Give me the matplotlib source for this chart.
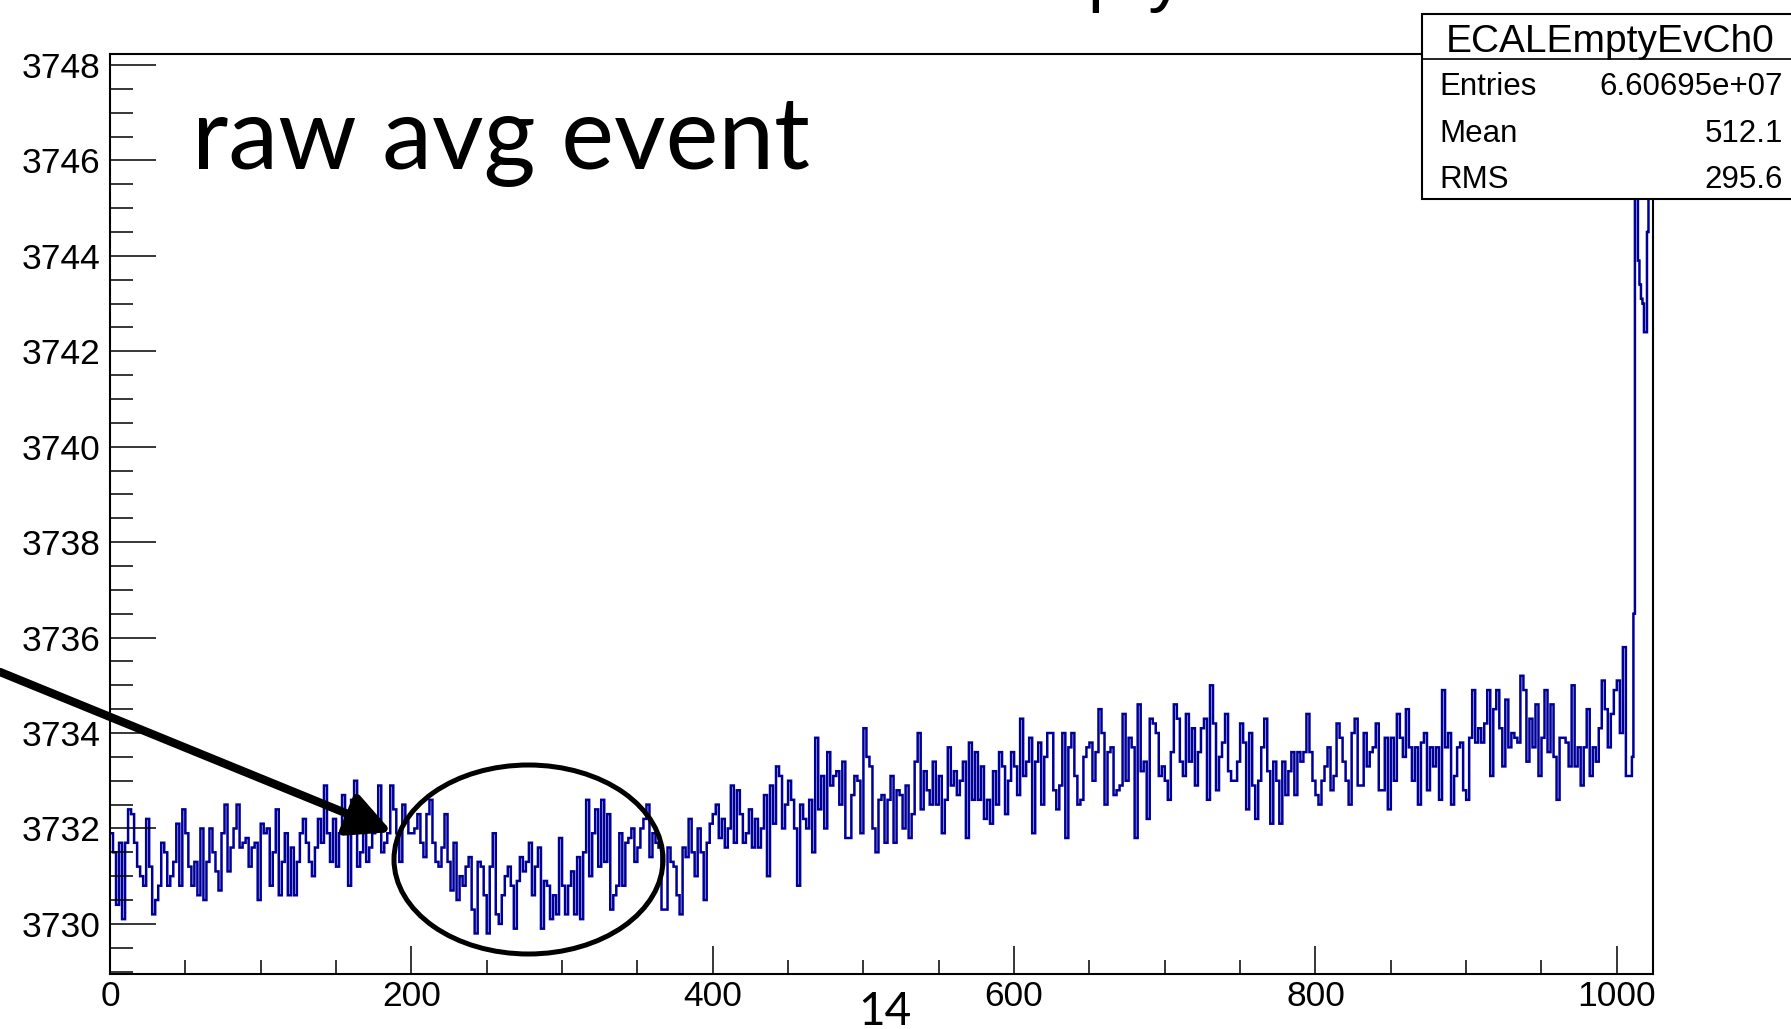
import numpy as np
import matplotlib
matplotlib.use("Agg")
import matplotlib.pyplot as plt
from matplotlib.ticker import MultipleLocator
from matplotlib.patches import Ellipse, Rectangle, FancyArrowPatch

# ==== DANE ====
# biny o szerokosci 2 dla 0..1008, potem biny o szerokosci 1 (pik na koncu)
WIDE_BIN = 2
NARROW_START = 1008
X_MAX = 1024

seg_a = [  # x 0-208
    3731.9, 3731.5, 3730.4, 3731.7, 3730.1, 3731.7, 3732.4, 3732.3, 3731.7, 3731.2,
    3731.0, 3730.8, 3732.2, 3731.2, 3730.2, 3730.5, 3730.8, 3731.7, 3731.5, 3730.8,
    3731.0, 3731.3, 3732.1, 3730.8, 3732.4, 3731.9, 3731.2, 3730.8, 3731.3, 3730.6,
    3732.0, 3730.5, 3731.3, 3732.0, 3731.5, 3731.1, 3730.7, 3731.9, 3732.5, 3731.1,
    3731.6, 3732.0, 3732.5, 3731.6, 3731.7, 3731.8, 3731.2, 3731.6, 3731.7, 3730.5,
    3732.1, 3731.9, 3732.0, 3730.8, 3731.5, 3732.4, 3730.6, 3731.3, 3731.9, 3730.6,
    3731.6, 3730.6, 3731.3, 3731.9, 3732.2, 3731.7, 3731.3, 3731.0, 3731.6, 3732.2,
    3731.7, 3732.9, 3731.9, 3731.3, 3732.2, 3731.2, 3731.9, 3732.7, 3731.9, 3730.8,
    3732.6, 3733.0, 3731.2, 3731.5, 3731.9, 3731.3, 3731.6, 3731.9, 3732.0, 3732.9,
    3731.5, 3731.7, 3731.9, 3732.9, 3732.4, 3731.9, 3731.3, 3732.5, 3732.2, 3731.9,
    3731.9, 3732.0, 3732.3, 3731.7,
]
seg_b = [  # x 208-412
    3731.4, 3732.3, 3732.6, 3731.7, 3731.3, 3731.2, 3731.6, 3732.3, 3731.3, 3730.7,
    3731.7, 3730.5, 3731.0, 3730.8, 3731.2, 3731.4, 3730.3, 3729.8, 3731.3, 3731.2,
    3730.6, 3729.8, 3731.2, 3731.9, 3730.2, 3730.0, 3730.6, 3731.0, 3731.2, 3730.8,
    3729.9, 3730.9, 3731.4, 3731.1, 3731.3, 3731.7, 3730.6, 3731.2, 3731.6, 3729.9,
    3730.9, 3730.8, 3730.1, 3730.6, 3730.2, 3731.8, 3730.8, 3730.2, 3730.8, 3731.1,
    3730.2, 3731.4, 3730.1, 3731.5, 3732.6, 3731.0, 3731.9, 3732.4, 3731.2, 3732.6,
    3731.3, 3732.3, 3730.3, 3730.6, 3730.8, 3731.9, 3730.8, 3731.7, 3731.8, 3732.0,
    3731.3, 3731.6, 3732.0, 3732.2, 3732.5, 3731.4, 3731.9, 3731.7, 3731.6, 3730.3,
    3730.3, 3731.6, 3731.3, 3731.2, 3730.6, 3730.2, 3731.6, 3731.4, 3732.2, 3731.5,
    3731.0, 3732.0, 3731.5, 3730.5, 3731.7, 3732.1, 3732.3, 3732.5, 3731.8, 3732.2,
    3731.6, 3732.0,
]
seg_c = [  # x 412-620
    3732.9, 3731.7, 3732.8, 3732.3, 3731.7, 3731.9, 3732.4, 3731.6, 3732.2, 3731.6,
    3732.0, 3732.7, 3731.0, 3732.9, 3732.1, 3733.3, 3733.1, 3732.0, 3732.5, 3733.0,
    3732.6, 3732.0, 3730.8, 3732.5, 3732.2, 3732.0, 3732.6, 3731.5, 3733.9, 3732.4,
    3733.1, 3732.0, 3733.6, 3732.9, 3733.1, 3733.2, 3732.5, 3733.4, 3731.8, 3731.8,
    3732.7, 3733.1, 3733.0, 3731.9, 3734.1, 3733.5, 3733.3, 3732.0, 3731.5, 3732.6,
    3732.7, 3731.7, 3732.6, 3733.1, 3731.7, 3732.8, 3732.7, 3732.0, 3732.9, 3731.8,
    3732.3, 3733.4, 3734.0, 3732.4, 3733.2, 3732.8, 3732.5, 3733.4, 3732.5, 3733.1,
    3731.9, 3732.6, 3733.7, 3732.9, 3733.2, 3732.7, 3733.0, 3733.4, 3731.8, 3733.8,
    3732.6, 3733.6, 3732.6, 3733.3, 3732.2, 3732.6, 3732.1, 3733.2, 3732.5, 3733.6,
    3733.3, 3732.3, 3733.0, 3733.6, 3733.3, 3732.7, 3734.3, 3733.1, 3733.4, 3733.9,
    3731.9, 3733.4, 3733.8, 3732.5,
]
seg_d = [  # x 620-824
    3733.5, 3734.0, 3734.0, 3732.8, 3732.4, 3732.9, 3734.0, 3731.8, 3733.7, 3734.0,
    3733.1, 3732.5, 3732.6, 3733.5, 3733.7, 3733.8, 3733.0, 3733.6, 3734.5, 3734.0,
    3732.5, 3733.6, 3733.7, 3732.7, 3732.8, 3732.9, 3734.4, 3733.0, 3733.9, 3733.7,
    3731.8, 3734.6, 3733.2, 3733.4, 3732.2, 3734.3, 3734.2, 3734.0, 3733.1, 3733.3,
    3733.0, 3732.6, 3733.6, 3734.6, 3734.3, 3733.4, 3733.1, 3734.4, 3733.4, 3734.1,
    3732.9, 3733.6, 3734.1, 3734.3, 3732.6, 3735.0, 3734.2, 3732.8, 3733.5, 3733.8,
    3734.4, 3733.2, 3733.0, 3733.0, 3733.4, 3734.2, 3733.8, 3732.4, 3734.0, 3732.9,
    3732.2, 3733.0, 3733.7, 3734.3, 3733.2, 3732.1, 3733.4, 3733.0, 3732.1, 3733.4,
    3732.7, 3733.2, 3733.6, 3732.7, 3733.6, 3733.4, 3733.6, 3734.4, 3733.6, 3733.0,
    3732.7, 3732.5, 3733.0, 3733.3, 3733.7, 3732.8, 3733.1, 3734.2, 3733.9, 3733.4,
    3733.0, 3732.5,
]
seg_e = [  # x 824-1008
    3734.0, 3734.3, 3732.9, 3732.9, 3734.0, 3733.3, 3733.6, 3733.7, 3734.2, 3732.8,
    3732.8, 3733.9, 3732.4, 3733.9, 3733.0, 3734.4, 3733.9, 3733.5, 3734.5, 3733.7,
    3733.0, 3733.7, 3732.5, 3733.8, 3734.0, 3732.8, 3733.7, 3733.3, 3733.7, 3732.6,
    3734.9, 3733.7, 3734.0, 3732.5, 3733.1, 3733.7, 3733.8, 3732.8, 3732.6, 3733.9,
    3734.9, 3733.8, 3734.1, 3733.8, 3734.2, 3734.9, 3733.1, 3734.5, 3734.9, 3734.1,
    3733.3, 3734.7, 3733.7, 3734.0, 3733.9, 3733.8, 3735.2, 3734.9, 3733.4, 3734.3,
    3733.7, 3734.6, 3733.1, 3733.9, 3734.9, 3733.6, 3734.6, 3733.5, 3732.6, 3733.9,
    3733.9, 3733.8, 3733.3, 3735.0, 3733.3, 3733.7, 3732.9, 3733.7, 3734.5, 3733.1,
    3733.7, 3733.4, 3734.1, 3735.1, 3734.5, 3733.7, 3734.4, 3734.9, 3735.1, 3734.0,
    3735.8, 3733.1,
]
tail = [  # x = 1008..1023, szerokosc 1 (wartosci 3750 sa schowane pod ramka statystyk)
    3733.1, 3733.1, 3733.5, 3736.5, 3750.0, 3750.0, 3743.9, 3743.4,
    3743.1, 3743.0, 3742.4, 3742.4, 3744.5, 3750.0, 3750.0, 3750.0,
]

STATS_NAME = "ECALEmptyEvCh0"
STATS_ROWS = [("Entries", "6.60695e+07"), ("Mean", "512.1"), ("RMS", "295.6")]

# ==== USTAWIENIA ====
W, H = 1791, 1029
DPI = 100
LINE_COLOR = "#000099"
TICK_FONT = "Liberation Sans"
SLIDE_FONT = "Lato"

values = np.array(seg_a + seg_b + seg_c + seg_d + seg_e + tail)
edges = np.concatenate([np.arange(0, NARROW_START + 1, WIDE_BIN),
                        np.arange(NARROW_START + 1, X_MAX + 1)])

fig = plt.figure(figsize=(W / DPI, H / DPI), dpi=DPI)

# --- ramka wykresu (pozycje w pikselach obrazu) ---
left, right, top, bottom = 110, 1653, 54, 974
ax = fig.add_axes([left / W, 1 - bottom / H, (right - left) / W, (bottom - top) / H])
ax.stairs(values, edges, baseline=None, color=LINE_COLOR, linewidth=1.8)

ax.set_xlim(0, X_MAX)
ax.set_ylim(3728.95, 3748.23)
ax.xaxis.set_major_locator(MultipleLocator(200))
ax.xaxis.set_minor_locator(MultipleLocator(50))
ax.yaxis.set_major_locator(MultipleLocator(2))
ax.yaxis.set_minor_locator(MultipleLocator(0.5))

ax.tick_params(axis="both", which="both", direction="in", top=False, right=False, width=1.1)
ax.tick_params(axis="y", which="major", length=33, pad=7)
ax.tick_params(axis="y", which="minor", length=16.5)
ax.tick_params(axis="x", which="major", length=20, pad=4)
ax.tick_params(axis="x", which="minor", length=10)
for lab in ax.get_xticklabels() + ax.get_yticklabels():
    lab.set_fontfamily(TICK_FONT)
    lab.set_fontsize(25.5)
for sp in ax.spines.values():
    sp.set_linewidth(1.5)

# --- warstwa nakladki w pikselach ---
ov = fig.add_axes([0, 0, 1, 1])
ov.set_xlim(0, W)
ov.set_ylim(H, 0)
ov.axis("off")
ov.patch.set_alpha(0)

# tytul histogramu (widoczne tylko dolne konce liter p i y)
ov.text(791, -2, STATS_NAME, fontfamily=TICK_FONT, fontsize=52, ha="left", va="baseline")

# ramka statystyk
ov.add_patch(Rectangle((1422, 14), 420, 185, facecolor="white", edgecolor="black", linewidth=1.5, zorder=5))
ov.plot([1422, W], [59, 59], color="black", linewidth=1.2, zorder=6)
ov.text(1610, 52, STATS_NAME, fontfamily=TICK_FONT, fontsize=28, ha="center", va="baseline", zorder=7)
for i, (name, val) in enumerate(STATS_ROWS):
    yb = 95 + i * 46.7
    ov.text(1439, yb, name, fontfamily=TICK_FONT, fontsize=22.5, ha="left", va="baseline", zorder=7)
    ov.text(1783, yb, val, fontfamily=TICK_FONT, fontsize=22.5, ha="right", va="baseline", zorder=7)

# napisy ze slajdu
ov.text(192, 169, "raw avg event", fontfamily=SLIDE_FONT, fontsize=72, ha="left", va="baseline")
ov.text(885, 1025, "14", fontfamily=SLIDE_FONT, fontsize=33, ha="center", va="baseline")

# strzalka i elipsa
arrow = FancyArrowPatch((0, 672), (392, 832), arrowstyle="-|>,head_length=2.6,head_width=1.3",
                        mutation_scale=10, linewidth=6, color="black", shrinkA=0, shrinkB=0)
ov.add_patch(arrow)
ov.add_patch(Ellipse((528.5, 859.5), 269, 189, fill=False, edgecolor="black", linewidth=3.6))

fig.savefig("out.png", dpi=DPI)
